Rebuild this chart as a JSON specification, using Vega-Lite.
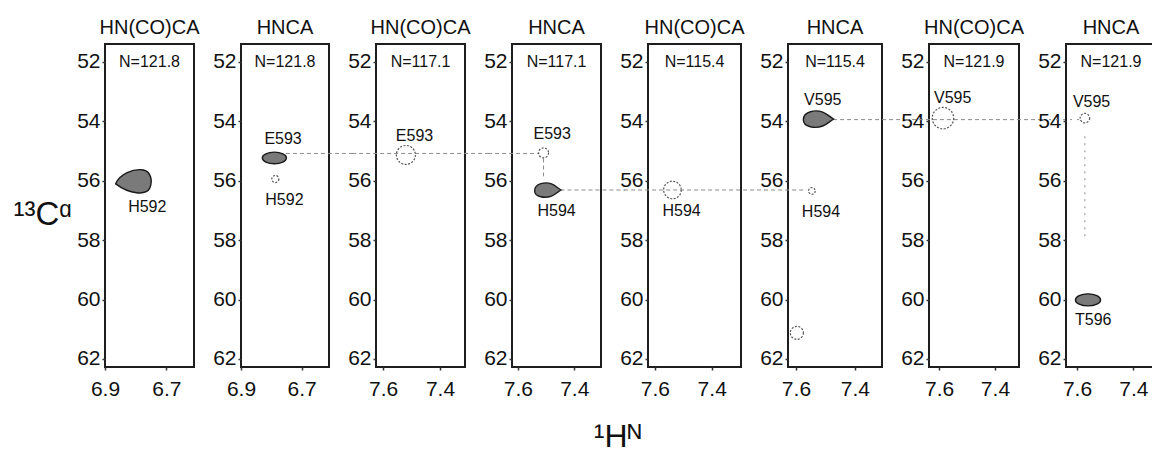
{
  "$schema": "https://vega.github.io/schema/vega-lite/v6.json",
  "padding": {"left": 12, "top": 17, "right": 0, "bottom": 0},
  "bounds": "flush",
  "spacing": 47,
  "title": {
    "text": "¹Hᴺ",
    "orient": "bottom",
    "anchor": "middle",
    "frame": "bounds",
    "baseline": "top",
    "offset": 22,
    "dx": 33,
    "fontSize": 32,
    "subtitle": ""
  },
  "datasets": {
    "nmr": [
      {"kind": "peak", "panel": 1, "residue": "H592", "x": 6.805, "y": 56.04, "profile": "lens", "intensity": 13.7, "side": "below"},
      {"kind": "peak", "panel": 2, "residue": "E593", "x": 6.79, "y": 55.23, "profile": "ellipse", "intensity": 5.8, "side": "above"},
      {"kind": "peak", "panel": 2, "residue": "H592", "x": 6.787, "y": 55.94, "profile": "weak", "intensity": 0.5, "side": "below"},
      {"kind": "peak", "panel": 3, "residue": "E593", "x": 7.52, "y": 55.13, "profile": "weak", "intensity": 3.6, "side": "above"},
      {"kind": "peak", "panel": 4, "residue": "E593", "x": 7.509, "y": 55.06, "profile": "weak", "intensity": 1.0, "side": "above"},
      {"kind": "peak", "panel": 4, "residue": "H594", "x": 7.495, "y": 56.31, "profile": "teardrop", "intensity": 7.3, "side": "below"},
      {"kind": "peak", "panel": 5, "residue": "H594", "x": 7.538, "y": 56.31, "profile": "weak", "intensity": 3.1, "side": "below"},
      {"kind": "peak", "panel": 6, "residue": "V595", "x": 7.525, "y": 53.92, "profile": "teardrop", "intensity": 9.6, "side": "above"},
      {"kind": "peak", "panel": 6, "residue": "H594", "x": 7.546, "y": 56.34, "profile": "weak", "intensity": 0.45, "side": "below"},
      {"kind": "peak", "panel": 6, "residue": "", "x": 7.597, "y": 61.12, "profile": "weak", "intensity": 1.7, "side": "none"},
      {"kind": "peak", "panel": 7, "residue": "V595", "x": 7.586, "y": 53.89, "profile": "weak", "intensity": 4.6, "side": "above"},
      {"kind": "peak", "panel": 8, "residue": "V595", "x": 7.572, "y": 53.89, "profile": "weak", "intensity": 0.9, "side": "above"},
      {"kind": "peak", "panel": 8, "residue": "T596", "x": 7.561, "y": 60.01, "profile": "ellipse", "intensity": 6.3, "side": "below"},
      {"kind": "link", "panel": 2, "x": 6.752, "x_end": 6.531, "y": 55.08, "y_end": 55.08},
      {"kind": "link", "panel": 3, "x": 7.709, "x_end": 7.228, "y": 55.08, "y_end": 55.08},
      {"kind": "link", "panel": 4, "x": 7.706, "x_end": 7.527, "y": 55.08, "y_end": 55.08},
      {"kind": "link", "panel": 4, "x": 7.509, "x_end": 7.509, "y": 55.25, "y_end": 55.85},
      {"kind": "link", "panel": 4, "x": 7.449, "x_end": 7.22, "y": 56.31, "y_end": 56.31},
      {"kind": "link", "panel": 5, "x": 7.708, "x_end": 7.213, "y": 56.31, "y_end": 56.31},
      {"kind": "link", "panel": 6, "x": 7.708, "x_end": 7.565, "y": 56.31, "y_end": 56.31},
      {"kind": "link", "panel": 6, "x": 7.474, "x_end": 7.227, "y": 53.94, "y_end": 53.94},
      {"kind": "link", "panel": 7, "x": 7.722, "x_end": 7.228, "y": 53.94, "y_end": 53.94},
      {"kind": "link", "panel": 8, "x": 7.724, "x_end": 7.587, "y": 53.94, "y_end": 53.94},
      {"kind": "link", "panel": 8, "x": 7.572, "x_end": 7.572, "y": 54.5, "y_end": 57.94}
    ]
  },
  "hconcat": [
    {
      "width": 89, "height": 323,
      "title": {"text": "HN(CO)CA", "subtitle": "N=121.8"},
      "data": {"name": "nmr"},
      "transform": [{"filter": "datum.panel == 1"}],
      "encoding": {
        "x": {"field": "x", "type": "quantitative", "scale": {"domain": [6.9, 6.61], "nice": false, "zero": false}, "axis": {"values": [6.9, 6.7], "format": ".1f", "title": null}},
        "y": {"field": "y", "type": "quantitative", "scale": {"domain": [62.27, 51.394], "nice": false, "zero": false}, "axis": {"values": [52, 54, 56, 58, 60, 62], "title": "¹³Cᵅ", "titleAngle": 0, "titleAlign": "left", "titleBaseline": "alphabetic", "titleX": -92, "titleY": 180, "titleFontSize": 33, "titleFontWeight": "normal", "titleColor": "#111"}}
      },
      "layer": [
        {"transform": [{"filter": "datum.kind == 'link'"}], "mark": {"type": "rule", "stroke": "#8c8c8c", "strokeWidth": 1, "strokeDash": [4, 3]}, "encoding": {"x2": {"field": "x_end"}, "y2": {"field": "y_end"}}},
        {"transform": [{"filter": "datum.kind == 'peak' && datum.profile != 'weak'"}], "mark": {"type": "point", "filled": true, "fill": "#7a7a7a", "stroke": "#1a1a1a", "strokeWidth": 1.4, "opacity": 1}, "encoding": {"shape": {"field": "profile", "type": "nominal", "legend": null, "scale": {"domain": ["lens", "ellipse", "teardrop"], "range": ["M-1,0.1C-0.8,-0.4,-0.05,-0.75,0.5,-0.65C0.92,-0.55,1,-0.05,0.85,0.32C0.65,0.75,-0.25,0.66,-1,0.1Z", "M-1,0A1,0.48,0,1,1,1,0A1,0.48,0,1,1,-1,0Z", "M-0.95,0.05C-0.95,-0.5,-0.15,-0.62,0.3,-0.45C0.6,-0.33,0.82,-0.1,1,0C0.82,0.1,0.6,0.33,0.3,0.45C-0.15,0.62,-0.95,0.55,-0.95,0.05Z"]}}, "size": {"field": "intensity", "type": "quantitative", "legend": null, "scale": {"domain": [0, 14], "range": [0, 1400], "zero": true}}}},
        {"transform": [{"filter": "datum.kind == 'peak' && datum.profile == 'weak'"}], "mark": {"type": "point", "shape": "circle", "filled": false, "stroke": "#555555", "strokeWidth": 1.2, "strokeDash": [2, 1.5], "opacity": 1}, "encoding": {"size": {"field": "intensity", "type": "quantitative", "legend": null, "scale": {"domain": [0, 14], "range": [0, 1400], "zero": true}}}},
        {"transform": [{"filter": "datum.kind == 'peak' && datum.side == 'above'"}], "mark": {"type": "text", "align": "left", "baseline": "middle", "dx": -10, "dy": -19}, "encoding": {"text": {"field": "residue"}}},
        {"transform": [{"filter": "datum.kind == 'peak' && datum.side == 'below'"}], "mark": {"type": "text", "align": "left", "baseline": "middle", "dx": -6, "dy": 25}, "encoding": {"text": {"field": "residue"}}}
      ]
    },
    {
      "width": 88, "height": 323,
      "title": {"text": "HNCA", "subtitle": "N=121.8"},
      "data": {"name": "nmr"},
      "transform": [{"filter": "datum.panel == 2"}],
      "encoding": {
        "x": {"field": "x", "type": "quantitative", "scale": {"domain": [6.9, 6.61], "nice": false, "zero": false}, "axis": {"values": [6.9, 6.7], "format": ".1f", "title": null}},
        "y": {"field": "y", "type": "quantitative", "scale": {"domain": [62.27, 51.394], "nice": false, "zero": false}, "axis": {"values": [52, 54, 56, 58, 60, 62], "title": null}}
      },
      "layer": [
        {"transform": [{"filter": "datum.kind == 'link'"}], "mark": {"type": "rule", "stroke": "#8c8c8c", "strokeWidth": 1, "strokeDash": [4, 3]}, "encoding": {"x2": {"field": "x_end"}, "y2": {"field": "y_end"}}},
        {"transform": [{"filter": "datum.kind == 'peak' && datum.profile != 'weak'"}], "mark": {"type": "point", "filled": true, "fill": "#7a7a7a", "stroke": "#1a1a1a", "strokeWidth": 1.4, "opacity": 1}, "encoding": {"shape": {"field": "profile", "type": "nominal", "legend": null, "scale": {"domain": ["lens", "ellipse", "teardrop"], "range": ["M-1,0.1C-0.8,-0.4,-0.05,-0.75,0.5,-0.65C0.92,-0.55,1,-0.05,0.85,0.32C0.65,0.75,-0.25,0.66,-1,0.1Z", "M-1,0A1,0.48,0,1,1,1,0A1,0.48,0,1,1,-1,0Z", "M-0.95,0.05C-0.95,-0.5,-0.15,-0.62,0.3,-0.45C0.6,-0.33,0.82,-0.1,1,0C0.82,0.1,0.6,0.33,0.3,0.45C-0.15,0.62,-0.95,0.55,-0.95,0.05Z"]}}, "size": {"field": "intensity", "type": "quantitative", "legend": null, "scale": {"domain": [0, 14], "range": [0, 1400], "zero": true}}}},
        {"transform": [{"filter": "datum.kind == 'peak' && datum.profile == 'weak'"}], "mark": {"type": "point", "shape": "circle", "filled": false, "stroke": "#555555", "strokeWidth": 1.2, "strokeDash": [2, 1.5], "opacity": 1}, "encoding": {"size": {"field": "intensity", "type": "quantitative", "legend": null, "scale": {"domain": [0, 14], "range": [0, 1400], "zero": true}}}},
        {"transform": [{"filter": "datum.kind == 'peak' && datum.side == 'above'"}], "mark": {"type": "text", "align": "left", "baseline": "middle", "dx": -10, "dy": -19}, "encoding": {"text": {"field": "residue"}}},
        {"transform": [{"filter": "datum.kind == 'peak' && datum.side == 'below'"}], "mark": {"type": "text", "align": "left", "baseline": "middle", "dx": -10, "dy": 21}, "encoding": {"text": {"field": "residue"}}}
      ]
    },
    {
      "width": 89, "height": 323,
      "title": {"text": "HN(CO)CA", "subtitle": "N=117.1"},
      "data": {"name": "nmr"},
      "transform": [{"filter": "datum.panel == 3"}],
      "encoding": {
        "x": {"field": "x", "type": "quantitative", "scale": {"domain": [7.625, 7.312], "nice": false, "zero": false}, "axis": {"values": [7.6, 7.4], "format": ".1f", "title": null}},
        "y": {"field": "y", "type": "quantitative", "scale": {"domain": [62.27, 51.394], "nice": false, "zero": false}, "axis": {"values": [52, 54, 56, 58, 60, 62], "title": null}}
      },
      "layer": [
        {"transform": [{"filter": "datum.kind == 'link'"}], "mark": {"type": "rule", "stroke": "#8c8c8c", "strokeWidth": 1, "strokeDash": [4, 3]}, "encoding": {"x2": {"field": "x_end"}, "y2": {"field": "y_end"}}},
        {"transform": [{"filter": "datum.kind == 'peak' && datum.profile != 'weak'"}], "mark": {"type": "point", "filled": true, "fill": "#7a7a7a", "stroke": "#1a1a1a", "strokeWidth": 1.4, "opacity": 1}, "encoding": {"shape": {"field": "profile", "type": "nominal", "legend": null, "scale": {"domain": ["lens", "ellipse", "teardrop"], "range": ["M-1,0.1C-0.8,-0.4,-0.05,-0.75,0.5,-0.65C0.92,-0.55,1,-0.05,0.85,0.32C0.65,0.75,-0.25,0.66,-1,0.1Z", "M-1,0A1,0.48,0,1,1,1,0A1,0.48,0,1,1,-1,0Z", "M-0.95,0.05C-0.95,-0.5,-0.15,-0.62,0.3,-0.45C0.6,-0.33,0.82,-0.1,1,0C0.82,0.1,0.6,0.33,0.3,0.45C-0.15,0.62,-0.95,0.55,-0.95,0.05Z"]}}, "size": {"field": "intensity", "type": "quantitative", "legend": null, "scale": {"domain": [0, 14], "range": [0, 1400], "zero": true}}}},
        {"transform": [{"filter": "datum.kind == 'peak' && datum.profile == 'weak'"}], "mark": {"type": "point", "shape": "circle", "filled": false, "stroke": "#555555", "strokeWidth": 1.2, "strokeDash": [2, 1.5], "opacity": 1}, "encoding": {"size": {"field": "intensity", "type": "quantitative", "legend": null, "scale": {"domain": [0, 14], "range": [0, 1400], "zero": true}}}},
        {"transform": [{"filter": "datum.kind == 'peak' && datum.side == 'above'"}], "mark": {"type": "text", "align": "left", "baseline": "middle", "dx": -10, "dy": -19}, "encoding": {"text": {"field": "residue"}}},
        {"transform": [{"filter": "datum.kind == 'peak' && datum.side == 'below'"}], "mark": {"type": "text", "align": "left", "baseline": "middle", "dx": -10, "dy": 21}, "encoding": {"text": {"field": "residue"}}}
      ]
    },
    {
      "width": 89, "height": 323,
      "title": {"text": "HNCA", "subtitle": "N=117.1"},
      "data": {"name": "nmr"},
      "transform": [{"filter": "datum.panel == 4"}],
      "encoding": {
        "x": {"field": "x", "type": "quantitative", "scale": {"domain": [7.621, 7.305], "nice": false, "zero": false}, "axis": {"values": [7.6, 7.4], "format": ".1f", "title": null}},
        "y": {"field": "y", "type": "quantitative", "scale": {"domain": [62.27, 51.394], "nice": false, "zero": false}, "axis": {"values": [52, 54, 56, 58, 60, 62], "title": null}}
      },
      "layer": [
        {"transform": [{"filter": "datum.kind == 'link'"}], "mark": {"type": "rule", "stroke": "#8c8c8c", "strokeWidth": 1, "strokeDash": [4, 3]}, "encoding": {"x2": {"field": "x_end"}, "y2": {"field": "y_end"}}},
        {"transform": [{"filter": "datum.kind == 'peak' && datum.profile != 'weak'"}], "mark": {"type": "point", "filled": true, "fill": "#7a7a7a", "stroke": "#1a1a1a", "strokeWidth": 1.4, "opacity": 1}, "encoding": {"shape": {"field": "profile", "type": "nominal", "legend": null, "scale": {"domain": ["lens", "ellipse", "teardrop"], "range": ["M-1,0.1C-0.8,-0.4,-0.05,-0.75,0.5,-0.65C0.92,-0.55,1,-0.05,0.85,0.32C0.65,0.75,-0.25,0.66,-1,0.1Z", "M-1,0A1,0.48,0,1,1,1,0A1,0.48,0,1,1,-1,0Z", "M-0.95,0.05C-0.95,-0.5,-0.15,-0.62,0.3,-0.45C0.6,-0.33,0.82,-0.1,1,0C0.82,0.1,0.6,0.33,0.3,0.45C-0.15,0.62,-0.95,0.55,-0.95,0.05Z"]}}, "size": {"field": "intensity", "type": "quantitative", "legend": null, "scale": {"domain": [0, 14], "range": [0, 1400], "zero": true}}}},
        {"transform": [{"filter": "datum.kind == 'peak' && datum.profile == 'weak'"}], "mark": {"type": "point", "shape": "circle", "filled": false, "stroke": "#555555", "strokeWidth": 1.2, "strokeDash": [2, 1.5], "opacity": 1}, "encoding": {"size": {"field": "intensity", "type": "quantitative", "legend": null, "scale": {"domain": [0, 14], "range": [0, 1400], "zero": true}}}},
        {"transform": [{"filter": "datum.kind == 'peak' && datum.side == 'above'"}], "mark": {"type": "text", "align": "left", "baseline": "middle", "dx": -10, "dy": -19}, "encoding": {"text": {"field": "residue"}}},
        {"transform": [{"filter": "datum.kind == 'peak' && datum.side == 'below'"}], "mark": {"type": "text", "align": "left", "baseline": "middle", "dx": -10, "dy": 21}, "encoding": {"text": {"field": "residue"}}}
      ]
    },
    {
      "width": 93, "height": 323,
      "title": {"text": "HN(CO)CA", "subtitle": "N=115.4"},
      "data": {"name": "nmr"},
      "transform": [{"filter": "datum.panel == 5"}],
      "encoding": {
        "x": {"field": "x", "type": "quantitative", "scale": {"domain": [7.624, 7.297], "nice": false, "zero": false}, "axis": {"values": [7.6, 7.4], "format": ".1f", "title": null}},
        "y": {"field": "y", "type": "quantitative", "scale": {"domain": [62.27, 51.394], "nice": false, "zero": false}, "axis": {"values": [52, 54, 56, 58, 60, 62], "title": null}}
      },
      "layer": [
        {"transform": [{"filter": "datum.kind == 'link'"}], "mark": {"type": "rule", "stroke": "#8c8c8c", "strokeWidth": 1, "strokeDash": [4, 3]}, "encoding": {"x2": {"field": "x_end"}, "y2": {"field": "y_end"}}},
        {"transform": [{"filter": "datum.kind == 'peak' && datum.profile != 'weak'"}], "mark": {"type": "point", "filled": true, "fill": "#7a7a7a", "stroke": "#1a1a1a", "strokeWidth": 1.4, "opacity": 1}, "encoding": {"shape": {"field": "profile", "type": "nominal", "legend": null, "scale": {"domain": ["lens", "ellipse", "teardrop"], "range": ["M-1,0.1C-0.8,-0.4,-0.05,-0.75,0.5,-0.65C0.92,-0.55,1,-0.05,0.85,0.32C0.65,0.75,-0.25,0.66,-1,0.1Z", "M-1,0A1,0.48,0,1,1,1,0A1,0.48,0,1,1,-1,0Z", "M-0.95,0.05C-0.95,-0.5,-0.15,-0.62,0.3,-0.45C0.6,-0.33,0.82,-0.1,1,0C0.82,0.1,0.6,0.33,0.3,0.45C-0.15,0.62,-0.95,0.55,-0.95,0.05Z"]}}, "size": {"field": "intensity", "type": "quantitative", "legend": null, "scale": {"domain": [0, 14], "range": [0, 1400], "zero": true}}}},
        {"transform": [{"filter": "datum.kind == 'peak' && datum.profile == 'weak'"}], "mark": {"type": "point", "shape": "circle", "filled": false, "stroke": "#555555", "strokeWidth": 1.2, "strokeDash": [2, 1.5], "opacity": 1}, "encoding": {"size": {"field": "intensity", "type": "quantitative", "legend": null, "scale": {"domain": [0, 14], "range": [0, 1400], "zero": true}}}},
        {"transform": [{"filter": "datum.kind == 'peak' && datum.side == 'above'"}], "mark": {"type": "text", "align": "left", "baseline": "middle", "dx": -10, "dy": -19}, "encoding": {"text": {"field": "residue"}}},
        {"transform": [{"filter": "datum.kind == 'peak' && datum.side == 'below'"}], "mark": {"type": "text", "align": "left", "baseline": "middle", "dx": -10, "dy": 21}, "encoding": {"text": {"field": "residue"}}}
      ]
    },
    {
      "width": 94, "height": 323,
      "title": {"text": "HNCA", "subtitle": "N=115.4"},
      "data": {"name": "nmr"},
      "transform": [{"filter": "datum.panel == 6"}],
      "encoding": {
        "x": {"field": "x", "type": "quantitative", "scale": {"domain": [7.627, 7.308], "nice": false, "zero": false}, "axis": {"values": [7.6, 7.4], "format": ".1f", "title": null}},
        "y": {"field": "y", "type": "quantitative", "scale": {"domain": [62.27, 51.394], "nice": false, "zero": false}, "axis": {"values": [52, 54, 56, 58, 60, 62], "title": null}}
      },
      "layer": [
        {"transform": [{"filter": "datum.kind == 'link'"}], "mark": {"type": "rule", "stroke": "#8c8c8c", "strokeWidth": 1, "strokeDash": [4, 3]}, "encoding": {"x2": {"field": "x_end"}, "y2": {"field": "y_end"}}},
        {"transform": [{"filter": "datum.kind == 'peak' && datum.profile != 'weak'"}], "mark": {"type": "point", "filled": true, "fill": "#7a7a7a", "stroke": "#1a1a1a", "strokeWidth": 1.4, "opacity": 1}, "encoding": {"shape": {"field": "profile", "type": "nominal", "legend": null, "scale": {"domain": ["lens", "ellipse", "teardrop"], "range": ["M-1,0.1C-0.8,-0.4,-0.05,-0.75,0.5,-0.65C0.92,-0.55,1,-0.05,0.85,0.32C0.65,0.75,-0.25,0.66,-1,0.1Z", "M-1,0A1,0.48,0,1,1,1,0A1,0.48,0,1,1,-1,0Z", "M-0.95,0.05C-0.95,-0.5,-0.15,-0.62,0.3,-0.45C0.6,-0.33,0.82,-0.1,1,0C0.82,0.1,0.6,0.33,0.3,0.45C-0.15,0.62,-0.95,0.55,-0.95,0.05Z"]}}, "size": {"field": "intensity", "type": "quantitative", "legend": null, "scale": {"domain": [0, 14], "range": [0, 1400], "zero": true}}}},
        {"transform": [{"filter": "datum.kind == 'peak' && datum.profile == 'weak'"}], "mark": {"type": "point", "shape": "circle", "filled": false, "stroke": "#555555", "strokeWidth": 1.2, "strokeDash": [2, 1.5], "opacity": 1}, "encoding": {"size": {"field": "intensity", "type": "quantitative", "legend": null, "scale": {"domain": [0, 14], "range": [0, 1400], "zero": true}}}},
        {"transform": [{"filter": "datum.kind == 'peak' && datum.side == 'above'"}], "mark": {"type": "text", "align": "left", "baseline": "middle", "dx": -14, "dy": -19}, "encoding": {"text": {"field": "residue"}}},
        {"transform": [{"filter": "datum.kind == 'peak' && datum.side == 'below'"}], "mark": {"type": "text", "align": "left", "baseline": "middle", "dx": -10, "dy": 21}, "encoding": {"text": {"field": "residue"}}}
      ]
    },
    {
      "width": 90, "height": 323,
      "title": {"text": "HN(CO)CA", "subtitle": "N=121.9"},
      "data": {"name": "nmr"},
      "transform": [{"filter": "datum.panel == 7"}],
      "encoding": {
        "x": {"field": "x", "type": "quantitative", "scale": {"domain": [7.636, 7.314], "nice": false, "zero": false}, "axis": {"values": [7.6, 7.4], "format": ".1f", "title": null}},
        "y": {"field": "y", "type": "quantitative", "scale": {"domain": [62.27, 51.394], "nice": false, "zero": false}, "axis": {"values": [52, 54, 56, 58, 60, 62], "title": null}}
      },
      "layer": [
        {"transform": [{"filter": "datum.kind == 'link'"}], "mark": {"type": "rule", "stroke": "#8c8c8c", "strokeWidth": 1, "strokeDash": [4, 3]}, "encoding": {"x2": {"field": "x_end"}, "y2": {"field": "y_end"}}},
        {"transform": [{"filter": "datum.kind == 'peak' && datum.profile != 'weak'"}], "mark": {"type": "point", "filled": true, "fill": "#7a7a7a", "stroke": "#1a1a1a", "strokeWidth": 1.4, "opacity": 1}, "encoding": {"shape": {"field": "profile", "type": "nominal", "legend": null, "scale": {"domain": ["lens", "ellipse", "teardrop"], "range": ["M-1,0.1C-0.8,-0.4,-0.05,-0.75,0.5,-0.65C0.92,-0.55,1,-0.05,0.85,0.32C0.65,0.75,-0.25,0.66,-1,0.1Z", "M-1,0A1,0.48,0,1,1,1,0A1,0.48,0,1,1,-1,0Z", "M-0.95,0.05C-0.95,-0.5,-0.15,-0.62,0.3,-0.45C0.6,-0.33,0.82,-0.1,1,0C0.82,0.1,0.6,0.33,0.3,0.45C-0.15,0.62,-0.95,0.55,-0.95,0.05Z"]}}, "size": {"field": "intensity", "type": "quantitative", "legend": null, "scale": {"domain": [0, 14], "range": [0, 1400], "zero": true}}}},
        {"transform": [{"filter": "datum.kind == 'peak' && datum.profile == 'weak'"}], "mark": {"type": "point", "shape": "circle", "filled": false, "stroke": "#555555", "strokeWidth": 1.2, "strokeDash": [2, 1.5], "opacity": 1}, "encoding": {"size": {"field": "intensity", "type": "quantitative", "legend": null, "scale": {"domain": [0, 14], "range": [0, 1400], "zero": true}}}},
        {"transform": [{"filter": "datum.kind == 'peak' && datum.side == 'above'"}], "mark": {"type": "text", "align": "left", "baseline": "middle", "dx": -9, "dy": -20}, "encoding": {"text": {"field": "residue"}}},
        {"transform": [{"filter": "datum.kind == 'peak' && datum.side == 'below'"}], "mark": {"type": "text", "align": "left", "baseline": "middle", "dx": -10, "dy": 21}, "encoding": {"text": {"field": "residue"}}}
      ]
    },
    {
      "width": 90, "height": 323,
      "title": {"text": "HNCA", "subtitle": "N=121.9"},
      "data": {"name": "nmr"},
      "transform": [{"filter": "datum.panel == 8"}],
      "encoding": {
        "x": {"field": "x", "type": "quantitative", "scale": {"domain": [7.639, 7.32], "nice": false, "zero": false}, "axis": {"values": [7.6, 7.4], "format": ".1f", "title": null}},
        "y": {"field": "y", "type": "quantitative", "scale": {"domain": [62.27, 51.394], "nice": false, "zero": false}, "axis": {"values": [52, 54, 56, 58, 60, 62], "title": null}}
      },
      "layer": [
        {"transform": [{"filter": "datum.kind == 'link'"}], "mark": {"type": "rule", "stroke": "#8c8c8c", "strokeWidth": 1, "strokeDash": [2, 5]}, "encoding": {"x2": {"field": "x_end"}, "y2": {"field": "y_end"}}},
        {"transform": [{"filter": "datum.kind == 'peak' && datum.profile != 'weak'"}], "mark": {"type": "point", "filled": true, "fill": "#7a7a7a", "stroke": "#1a1a1a", "strokeWidth": 1.4, "opacity": 1}, "encoding": {"shape": {"field": "profile", "type": "nominal", "legend": null, "scale": {"domain": ["lens", "ellipse", "teardrop"], "range": ["M-1,0.1C-0.8,-0.4,-0.05,-0.75,0.5,-0.65C0.92,-0.55,1,-0.05,0.85,0.32C0.65,0.75,-0.25,0.66,-1,0.1Z", "M-1,0A1,0.48,0,1,1,1,0A1,0.48,0,1,1,-1,0Z", "M-0.95,0.05C-0.95,-0.5,-0.15,-0.62,0.3,-0.45C0.6,-0.33,0.82,-0.1,1,0C0.82,0.1,0.6,0.33,0.3,0.45C-0.15,0.62,-0.95,0.55,-0.95,0.05Z"]}}, "size": {"field": "intensity", "type": "quantitative", "legend": null, "scale": {"domain": [0, 14], "range": [0, 1400], "zero": true}}}},
        {"transform": [{"filter": "datum.kind == 'peak' && datum.profile == 'weak'"}], "mark": {"type": "point", "shape": "circle", "filled": false, "stroke": "#555555", "strokeWidth": 1.2, "strokeDash": [2, 1.5], "opacity": 1}, "encoding": {"size": {"field": "intensity", "type": "quantitative", "legend": null, "scale": {"domain": [0, 14], "range": [0, 1400], "zero": true}}}},
        {"transform": [{"filter": "datum.kind == 'peak' && datum.side == 'above'"}], "mark": {"type": "text", "align": "left", "baseline": "middle", "dx": -12, "dy": -16}, "encoding": {"text": {"field": "residue"}}},
        {"transform": [{"filter": "datum.kind == 'peak' && datum.side == 'below'"}], "mark": {"type": "text", "align": "left", "baseline": "middle", "dx": -13, "dy": 20}, "encoding": {"text": {"field": "residue"}}}
      ]
    }
  ],
  "config": {
    "font": "Liberation Sans, Arial, sans-serif",
    "background": "white",
    "view": {"stroke": "#1e1e1e", "strokeWidth": 2},
    "axis": {
      "domain": false,
      "grid": false,
      "tickSize": 3,
      "tickWidth": 1.5,
      "tickColor": "#333333",
      "labelFont": "Liberation Sans, Arial, sans-serif",
      "labelFontSize": 21,
      "labelColor": "#111111",
      "labelPadding": 2,
      "labelOverlap": false,
      "labelFlush": false
    },
    "axisX": {"labelPadding": 8},
    "title": {
      "font": "Liberation Sans, Arial, sans-serif",
      "fontSize": 20,
      "fontWeight": "normal",
      "color": "#111111",
      "anchor": "middle",
      "frame": "group",
      "baseline": "top",
      "offset": -26,
      "subtitleFont": "Liberation Sans, Arial, sans-serif",
      "subtitleFontSize": 16,
      "subtitleColor": "#111111",
      "subtitlePadding": 16
    },
    "text": {"font": "Liberation Sans, Arial, sans-serif", "fontSize": 16, "color": "#111111"}
  }
}
